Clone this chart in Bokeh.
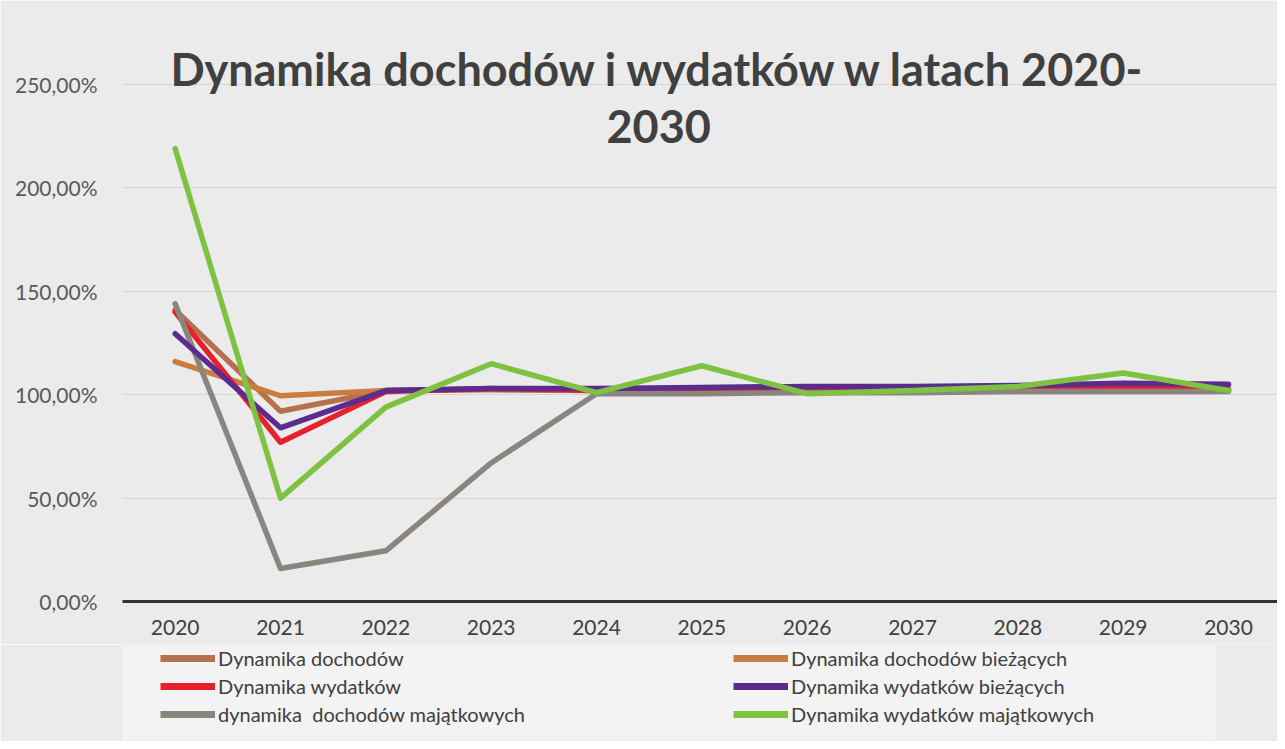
from bokeh.plotting import figure
from bokeh.layouts import column
from bokeh.models import Legend, LegendItem, Label, FixedTicker, Range1d, BoxAnnotation
from bokeh.embed import file_html
from bokeh.resources import INLINE

years = [2020, 2021, 2022, 2023, 2024, 2025, 2026, 2027, 2028, 2029, 2030]
dochodow = [141, 92, 102, 102.5, 102, 102, 102, 102, 102, 102, 102]
dochodow_biezacych = [116, 99.5, 102, 102.5, 102, 102.5, 102, 102, 102, 102, 102]
wydatkow = [140, 77, 101.5, 103, 102, 103, 102.5, 102.5, 103, 103.5, 102.5]
wydatkow_biezacych = [129.5, 84, 102, 103, 103, 103.5, 104, 104, 104.5, 105.5, 105]
dochodow_majatkowych = [144, 16, 24.5, 67, 100.5, 100.5, 101, 101, 101.5, 101.5, 101.5]
wydatkow_majatkowych = [219, 50, 94, 115, 101, 114, 100.5, 102, 104, 110.5, 102]

y_ticks = [0, 50, 100, 150, 200, 250]
y_tick_labels = ["0,00%", "50,00%", "100,00%", "150,00%", "200,00%", "250,00%"]

title_lines = ["Dynamika dochodów i wydatków w latach 2020-", "2030"]

series = [
    ("Dynamika dochodów", dochodow, "#b5714f"),
    ("Dynamika dochodów bieżących", dochodow_biezacych, "#c97d3e"),
    ("Dynamika wydatków", wydatkow, "#e5222b"),
    ("Dynamika wydatków bieżących", wydatkow_biezacych, "#5b2b8e"),
    ("dynamika  dochodów majątkowych", dochodow_majatkowych, "#8b8580"),
    ("Dynamika wydatków majątkowych", wydatkow_majatkowych, "#7ec242"),
]
draw_order = [0, 1, 2, 4, 3, 5]
LW = 5.5

BG = "#ebebeb"
W = 1277
p = figure(width=W, height=644, output_backend="svg", toolbar_location=None,
           x_range=Range1d(2019.5, 2030.465), y_range=Range1d(0, 282.9),
           min_border_left=122, min_border_right=0, min_border_top=16, min_border_bottom=43,
           background_fill_color=BG, border_fill_color=BG)
p.outline_line_color = None

for i in draw_order:
    name, vals, col = series[i]
    p.line(years, vals, line_color=col, line_width=LW, line_join="round", line_cap="round")

# axes
p.xaxis.ticker = FixedTicker(ticks=years)
p.xaxis.axis_line_color = "#333333"
p.xaxis.axis_line_width = 3
p.xaxis.major_tick_line_color = None
p.xaxis.minor_tick_line_color = None
p.xaxis.major_tick_out = 0
p.xaxis.major_tick_in = 0
p.xaxis.major_label_standoff = 18
p.xaxis.major_label_text_font = "Lato"
p.xaxis.major_label_text_font_size = "21px"
p.xaxis.major_label_text_color = "#404040"

p.yaxis.ticker = FixedTicker(ticks=y_ticks)
p.yaxis.major_label_overrides = {t: l for t, l in zip(y_ticks, y_tick_labels)}
p.yaxis.axis_line_color = None
p.yaxis.major_tick_line_color = None
p.yaxis.minor_tick_line_color = None
p.yaxis.major_tick_out = 0
p.yaxis.major_tick_in = 0
p.yaxis.major_label_standoff = 25
p.yaxis.major_label_text_font = "Lato"
p.yaxis.major_label_text_font_size = "21px"
p.yaxis.major_label_text_color = "#595959"

p.xgrid.grid_line_color = None
p.ygrid.grid_line_color = "#d6d6d6"
p.ygrid.grid_line_width = 1

# title (two wrapped lines, inside the chart area like the original)
for txt, yy in zip(title_lines, [257.5, 229.7]):
    p.add_layout(Label(x=2024.59, y=yy, text=txt, text_align="center", text_baseline="middle",
                       text_font="Lato", text_font_style="bold", text_font_size="45px",
                       text_color="#404040"))

# legend strip below the chart (frame is aligned with the chart frame, left edge at 122px)
lg = figure(width=W, height=97, output_backend="svg", toolbar_location=None,
            x_range=Range1d(0, 1), y_range=Range1d(0, 1),
            x_axis_location=None, y_axis_location=None,
            min_border_left=0, min_border_right=0, min_border_top=0, min_border_bottom=0,
            background_fill_color=BG, border_fill_color=BG)
lg.outline_line_color = None
lg.grid.visible = False
lg.add_layout(BoxAnnotation(left=-47, right=1093, top=96, bottom=1,
                            left_units="screen", right_units="screen",
                            top_units="screen", bottom_units="screen",
                            fill_color="#f3f3f3", fill_alpha=1, line_color=None))

# same series drawn outside the strip's ranges, used only as legend swatches
swatch = {}
for i, (name, vals, col) in enumerate(series):
    swatch[i] = lg.line(years, vals, line_color=col, line_width=7)

def make_legend(idx, x):
    items = [LegendItem(label=series[i][0], renderers=[swatch[i]]) for i in idx]
    return Legend(items=items, location=(x, 13), orientation="vertical",
                  glyph_width=55, glyph_height=20, label_standoff=3, spacing=4,
                  padding=2, margin=0, label_text_font="Lato", label_text_font_size="20px",
                  label_text_color="#404040",
                  background_fill_alpha=0, border_line_alpha=0)

lg.add_layout(make_legend([0, 2, 4], 36))
lg.add_layout(make_legend([1, 3, 5], 609))

layout = column(p, lg, spacing=0)
open("out.html", "w").write(file_html(layout, INLINE))
